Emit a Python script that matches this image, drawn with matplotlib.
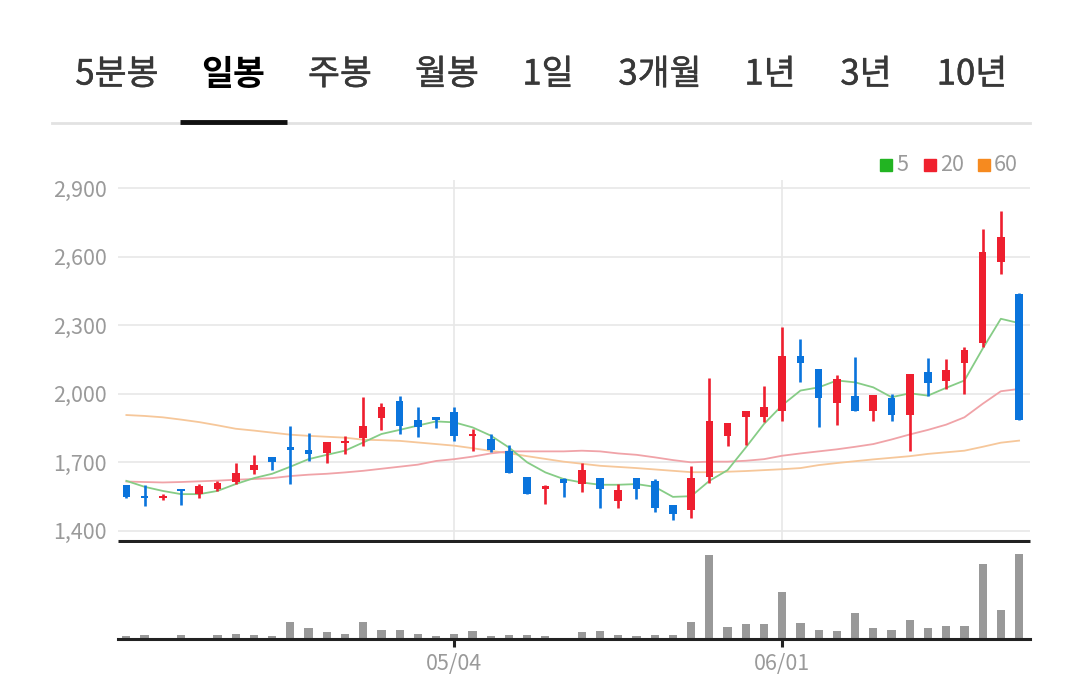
import matplotlib
matplotlib.use('Agg')
import matplotlib.pyplot as plt
import matplotlib.patheffects as pe
import numpy as np

plt.rcParams['font.family'] = ['Noto Sans CJK KR', 'DejaVu Sans']

# daily candles (50 trading days)
opens = [1600, 1550, 1545, 1585, 1560, 1585, 1615, 1665, 1725, 1765,
         1755, 1740, 1785, 1805, 1895, 1970, 1885, 1900, 1920, 1815,
         1800, 1750, 1635, 1585, 1625, 1605, 1630, 1530, 1630, 1620,
         1515, 1490, 1635, 1815, 1900, 1900, 1925, 2165, 2110, 1960,
         1990, 1925, 1980, 1905, 2095, 2055, 2135, 2220, 2575, 2435]
closes = [1550, 1545, 1555, 1575, 1595, 1610, 1655, 1690, 1700, 1755,
          1735, 1790, 1795, 1860, 1940, 1860, 1855, 1885, 1815, 1825,
          1755, 1655, 1560, 1595, 1610, 1665, 1585, 1580, 1585, 1500,
          1475, 1630, 1880, 1870, 1925, 1940, 2165, 2135, 1980, 2065,
          1925, 1995, 1905, 2085, 2045, 2105, 2190, 2620, 2685, 1885]
highs = [1600, 1600, 1560, 1585, 1605, 1620, 1695, 1730, 1725, 1860,
         1830, 1790, 1815, 1985, 1960, 1990, 1940, 1900, 1940, 1845,
         1825, 1775, 1635, 1600, 1630, 1695, 1630, 1605, 1630, 1625,
         1515, 1685, 2070, 1870, 1925, 2035, 2290, 2240, 2110, 2080,
         2160, 1995, 2000, 2085, 2155, 2150, 2205, 2720, 2800, 2440]
lows = [1545, 1510, 1535, 1515, 1545, 1575, 1605, 1650, 1665, 1605,
        1705, 1695, 1735, 1770, 1840, 1825, 1810, 1850, 1795, 1750,
        1745, 1655, 1560, 1520, 1550, 1570, 1500, 1500, 1540, 1485,
        1450, 1455, 1610, 1770, 1775, 1875, 1880, 2050, 1855, 1865,
        1925, 1880, 1880, 1750, 1990, 2020, 2000, 2205, 2525, 1885]

# moving averages as drawn
ma5 = [1619, 1593, 1575, 1561, 1561, 1575, 1605, 1631, 1650, 1681,
       1714, 1733, 1751, 1787, 1824, 1842, 1861, 1879, 1875, 1853,
       1817, 1765, 1700, 1656, 1627, 1612, 1602, 1602, 1605, 1593,
       1549, 1552, 1619, 1666, 1765, 1868, 1950, 2014, 2028, 2058,
       2050, 2028, 1985, 2002, 1992, 2026, 2058, 2197, 2328, 2309]
ma20 = [1616, 1614, 1612, 1614, 1617, 1620, 1624, 1627, 1631, 1640,
        1646, 1650, 1656, 1663, 1672, 1681, 1690, 1706, 1714, 1725,
        1739, 1748, 1748, 1748, 1748, 1751, 1748, 1739, 1733, 1722,
        1710, 1700, 1703, 1703, 1707, 1714, 1729, 1739, 1748, 1757,
        1768, 1780, 1800, 1822, 1842, 1865, 1897, 1956, 2011, 2021]
ma60 = [1907, 1903, 1897, 1887, 1876, 1862, 1847, 1839, 1830, 1821,
        1816, 1812, 1808, 1799, 1797, 1794, 1787, 1780, 1773, 1762,
        1750, 1740, 1727, 1715, 1703, 1694, 1685, 1680, 1675, 1669,
        1663, 1657, 1657, 1659, 1662, 1666, 1670, 1675, 1688, 1697,
        1705, 1713, 1720, 1727, 1737, 1744, 1751, 1768, 1786, 1795]

# volume (relative units)
volume = [2.7, 4, 1.3, 4, 1.3, 4, 5.3, 4, 2.7, 17,
          10.7, 6.7, 5.3, 17, 9.3, 9.3, 5.3, 2.7, 5.3, 8,
          2.7, 4, 4, 2.7, 1.3, 6.7, 8, 4, 2.7, 4,
          4, 17.3, 83.7, 12, 14.7, 14.7, 47, 16, 9.3, 8,
          26.3, 10.7, 9.3, 18.7, 10.7, 13.3, 13.3, 74.7, 29.3, 85.3]

date_ticks = [18, 36]
date_labels = ['05/04', '06/01']
price_ticks = [1400, 1700, 2000, 2300, 2600, 2900]
tabs = ['5분봉', '일봉', '주봉', '월봉', '1일', '3개월', '1년', '3년', '10년']
tab_x = [117, 233, 340, 447, 548, 660, 770, 866, 972]

UP = '#ee1f2f'
DOWN = '#0a74dc'
W, H = 1079, 684

fig = plt.figure(figsize=(W / 100, H / 100), dpi=100)
fig.patch.set_facecolor('white')

# tabs
for lbl, tx in zip(tabs, tab_x):
    sel = lbl == '일봉'
    t = fig.text(tx / W, 1 - 75 / H, lbl, ha='center', va='center', fontsize=25,
                 color='black' if sel else '#383838',
                 fontweight='bold' if sel else 'normal')
    if not sel:
        # slightly heavier than regular, like the app's medium weight
        t.set_path_effects([pe.withStroke(linewidth=0.35, foreground='#383838')])
fig.add_artist(plt.Line2D([52 / W, 1030 / W], [1 - 123 / H] * 2, color='#e2e2e2', lw=2))
fig.add_artist(plt.Line2D([180 / W, 287 / W], [1 - 122 / H] * 2, color='#111111', lw=3.5,
                          solid_capstyle='butt'))

x = np.arange(len(opens))
xl = (-0.46, 49.6)

# price panel
ax = fig.add_axes([118 / W, 1 - 541 / H, 912 / W, 361 / H])
ax.set_xlim(*xl)
ax.set_ylim(1356, 2935)
for p in price_ticks:
    ax.axhline(p, color='#e8e8e8', lw=1.2, zorder=0)
for t in date_ticks:
    ax.axvline(t, color='#e8e8e8', lw=1.2, zorder=0)

ax.plot(x, ma60, color='#f6c79a', lw=1.3, zorder=1)
ax.plot(x, ma20, color='#f0a3a8', lw=1.3, zorder=1)
ax.plot(x, ma5, color='#86cc86', lw=1.3, zorder=1)

o = np.array(opens); c = np.array(closes)
cols = [UP if cc > oo else DOWN for oo, cc in zip(o, c)]
ax.vlines(x, lows, highs, colors=cols, lw=1.9, zorder=2)
body_h = np.maximum(np.abs(c - o), 8)
ax.bar(x, body_h, bottom=np.minimum(o, c), width=0.42, color=cols, zorder=3)

ax.set_yticks(price_ticks)
ax.set_yticklabels([f'{p:,}' for p in price_ticks], fontsize=15.5, color='#9a9a9a')
ax.tick_params(axis='y', length=0, pad=8)
ax.set_xticks([])
for s in ax.spines.values():
    s.set_visible(False)
ax.plot([0, 1], [0, 0], transform=ax.transAxes, color='#222222', lw=2.2,
        clip_on=False, solid_capstyle='butt', zorder=5)

# legend
leg = [(880, '#22b422', '5'), (924, '#f0212e', '20'), (978, '#f68a1f', '60')]
for lx, lc, lt in leg:
    fig.patches.append(plt.Rectangle((lx / W, 1 - 171 / H), 12 / W, 12 / H,
                                     transform=fig.transFigure, color=lc))
    fig.text((lx + 16) / W, 1 - 165 / H, lt, ha='left', va='center',
             fontsize=15.5, color='#9a9a9a')

# volume panel
axv = fig.add_axes([118 / W, 1 - 639 / H, 912 / W, 96 / H])
axv.set_xlim(*xl)
axv.set_ylim(0, 96)
axv.bar(x, volume, width=0.45, color='#999999')
axv.set_yticks([])
axv.set_xticks(date_ticks)
axv.set_xticklabels(date_labels, fontsize=15.5, color='#9a9a9a')
axv.tick_params(axis='x', length=6, width=2.2, color='#222222', pad=4)
for s in ['top', 'right', 'left']:
    axv.spines[s].set_visible(False)
axv.spines['bottom'].set_color('#222222')
axv.spines['bottom'].set_linewidth(2.2)

fig.savefig('out.png', dpi=100, facecolor='white')
